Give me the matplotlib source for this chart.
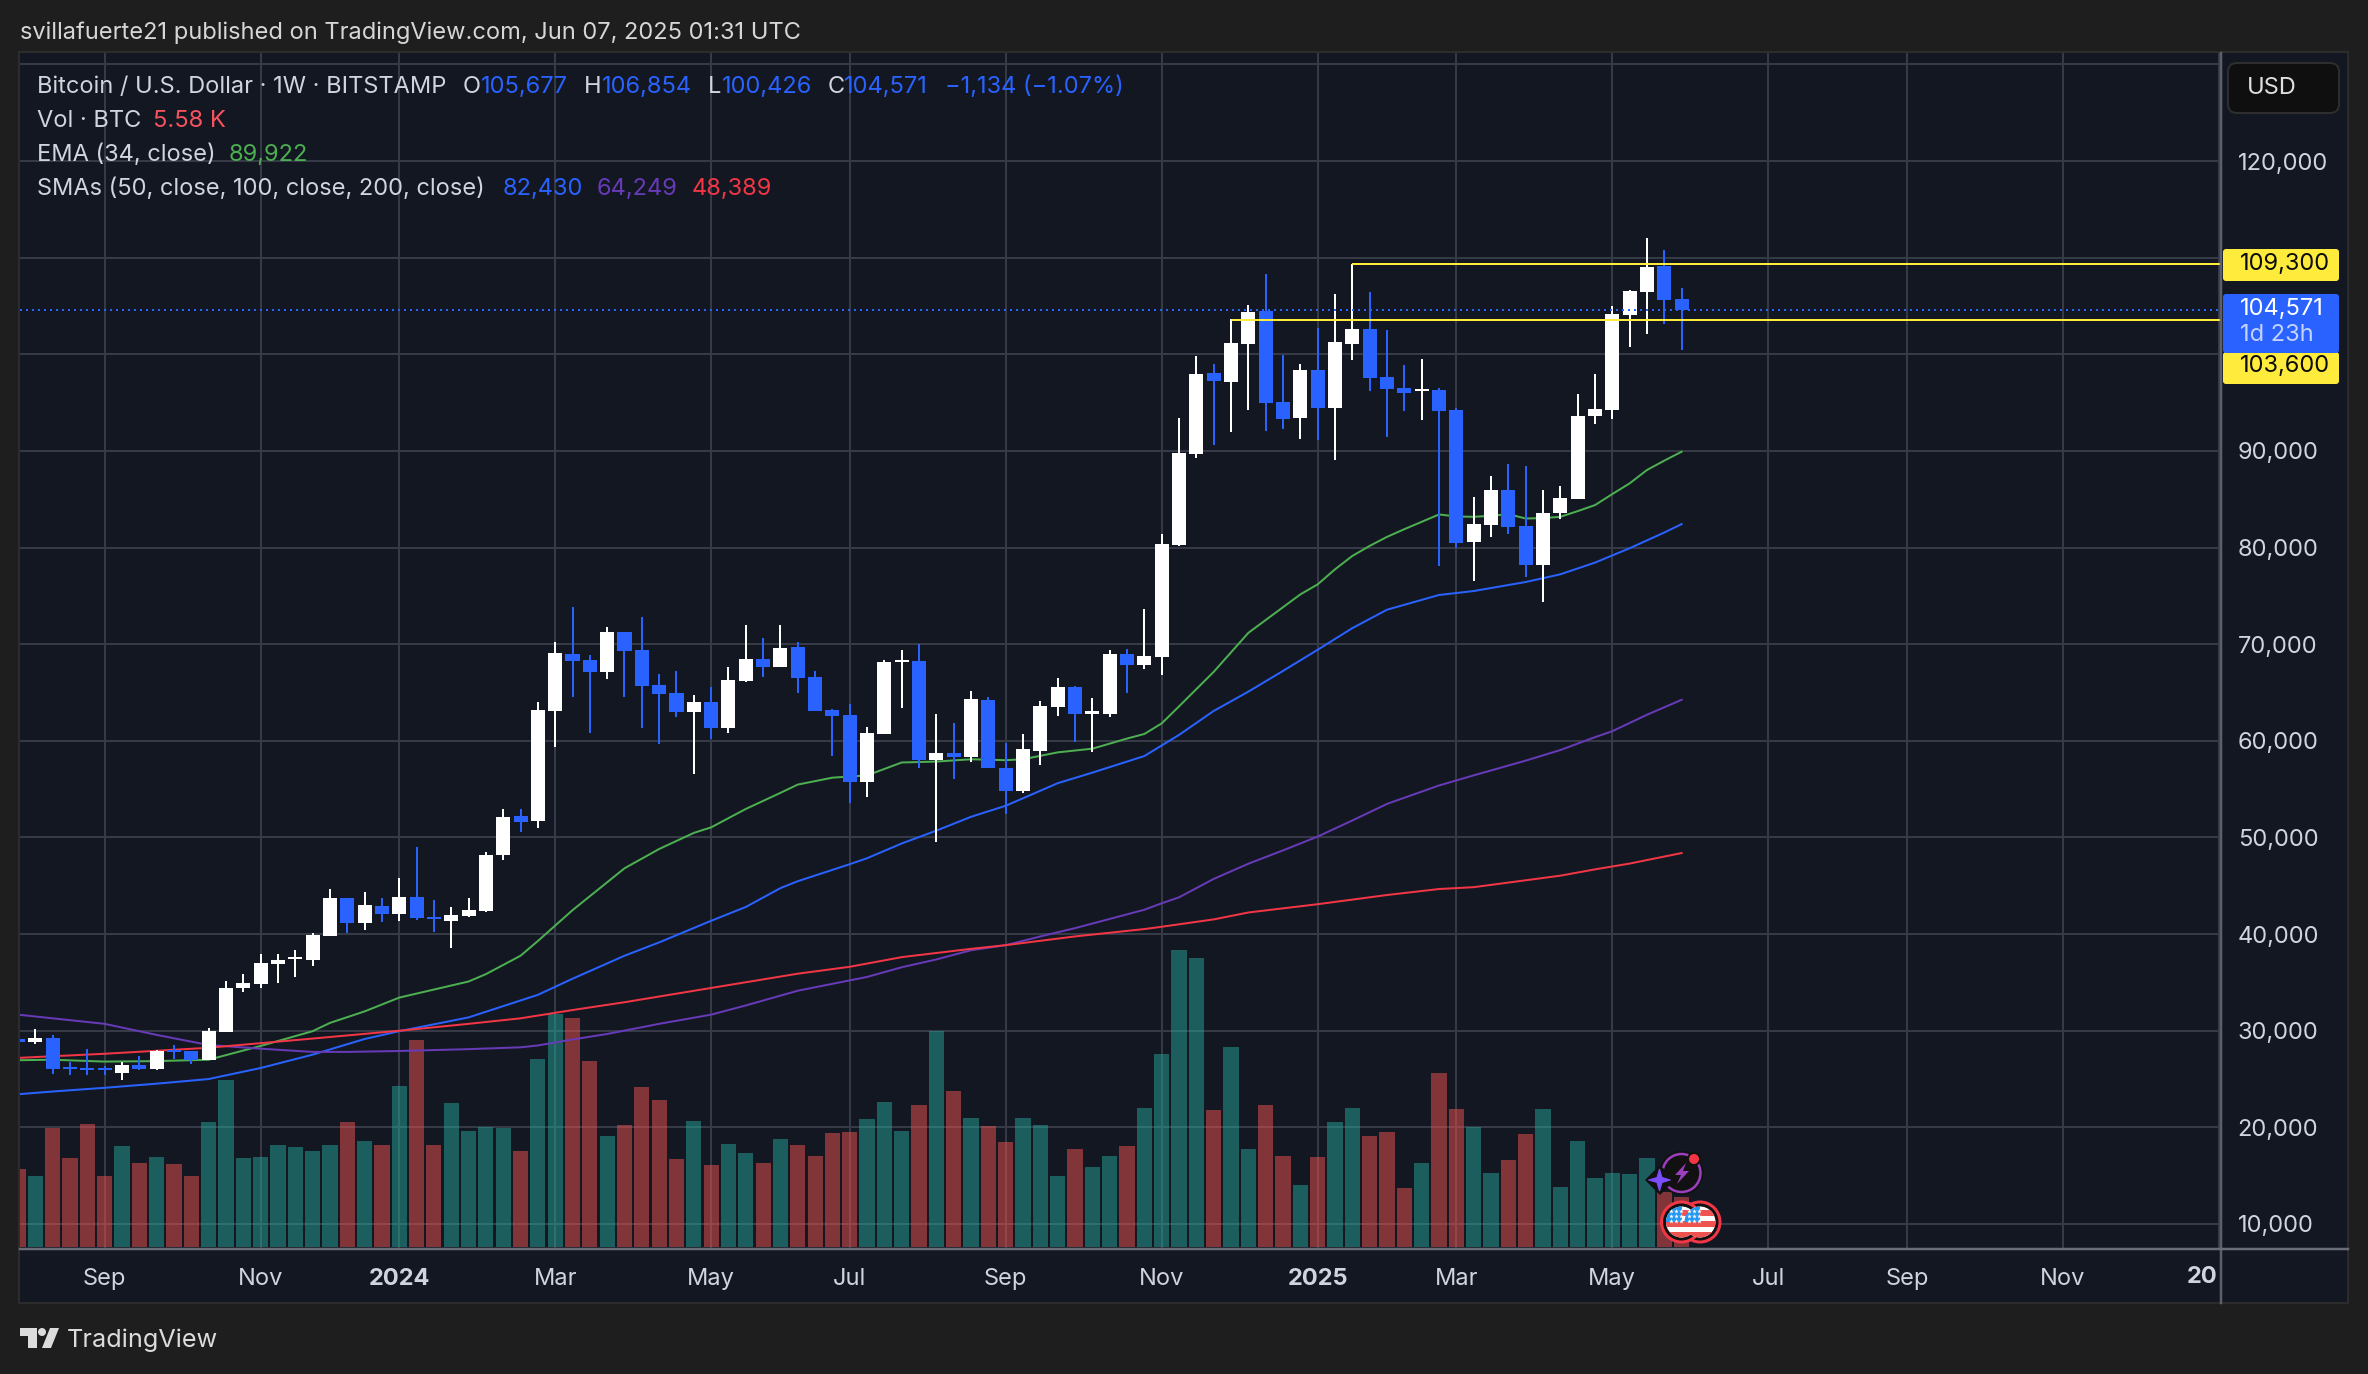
import numpy as np
import matplotlib
matplotlib.use("Agg")
import matplotlib.pyplot as plt
from matplotlib.patches import Rectangle, Circle, Polygon, FancyBboxPatch

W, H = 2368, 1374
plt.rcParams['font.family'] = ['Inter', 'DejaVu Sans']

# weeks counted from the candle of 4 Sep 2023
weeks = list(range(-5, 92))
opens = [29190, 28856, 29237, 26190, 26142, 26095, 25618, 26475, 26046, 27952, 27904, 26999, 29856, 34428, 34856, 36952,
         37380, 37333, 39856, 43761, 41190, 42952, 42094, 43856, 41761, 41380, 41904, 42428, 48142, 52190, 51666, 63047,
         68999, 68333, 67095, 71238, 69381, 65762, 64952, 62952, 64000, 61285, 66190, 68476, 67619, 69714, 66571, 63190,
         62666, 55714, 60666, 68143, 68238, 57999, 58714, 58286, 64190, 57238, 54762, 58999, 63476, 65571, 62761, 62761,
         68999, 67857, 68667, 80279, 89725, 98029, 97094, 101039, 104464, 95018, 93461, 98340, 94396, 101039, 102596,
         97613, 96472, 96195, 96264, 94188, 80590, 82355, 85988, 82251, 78203, 83600, 85054, 93669, 94188, 104049, 106436,
         109135, 105677]
highs = [29380, 30190, 29522, 26808, 28095, 26332, 26761, 27380, 28000, 28522, 27904, 30285, 35190, 35904, 37952, 37952,
         38380, 40142, 44713, 43761, 44380, 43761, 45856, 49047, 43570, 42761, 43761, 48523, 52904, 52999, 63999, 70238,
         73857, 68857, 71762, 71238, 72809, 66905, 67190, 64714, 65571, 67619, 71999, 70619, 71999, 70238, 67190, 63286,
         63762, 61428, 68333, 69381, 69999, 62762, 61809, 65143, 64524, 59762, 60666, 64095, 66476, 65666, 64428, 69381,
         69476, 73666, 81420, 93461, 99793, 98963, 103634, 105087, 108305, 99897, 98963, 102700, 106229, 109343, 106436,
         102492, 98859, 99482, 96472, 94396, 85261, 87441, 88687, 88479, 85988, 86403, 95849, 97925, 104983, 106644,
         112042, 110796, 106854]
lows = [28713, 28666, 25570, 25380, 25380, 25380, 24904, 25950, 25904, 27095, 26523, 26999, 29856, 34047, 34428, 34952,
        35570, 36713, 39856, 40142, 40475, 41285, 41380, 41476, 40237, 38523, 41809, 42237, 47714, 50523, 50952, 59333,
        64524, 60762, 66381, 64524, 61285, 59666, 62428, 56523, 60143, 60762, 66095, 66571, 67619, 64952, 63047, 58381,
        53524, 54238, 60666, 63381, 57143, 49571, 56095, 57857, 57143, 52476, 54571, 57476, 62523, 59857, 58809, 62428,
        64999, 67428, 66810, 80175, 89309, 90659, 92008, 94188, 92112, 92320, 91282, 91178, 89102, 99378, 96160, 91489,
        94084, 93254, 78099, 79967, 76542, 81109, 81421, 76957, 74362, 82978, 85054, 92839, 93358, 100727, 102077, 103115,
        100426]
closes = [28856, 29237, 26046, 26095, 26046, 26000, 26475, 26046, 27904, 27856, 26999, 30000, 34428, 34952, 37047, 37285,
          37570, 39952, 43761, 41190, 43047, 42094, 43856, 41618, 41618, 41999, 42523, 48237, 52094, 51571, 63190, 69095,
          68238, 67095, 71238, 69286, 65666, 64809, 62952, 64000, 61285, 66285, 68476, 67619, 69619, 66476, 63047, 62523,
          55714, 60762, 68143, 68286, 57999, 58714, 58286, 64333, 57143, 54762, 59143, 63571, 65571, 62761, 62952, 68999,
          67857, 68762, 80380, 89828, 97925, 97198, 101143, 104360, 94915, 93358, 98340, 94396, 101246, 102596, 97510,
          96368, 95953, 96333, 94084, 80486, 82459, 85988, 82147, 78203, 83600, 85157, 93669, 94292, 104153, 106540,
          109031, 105606, 104571]
# thousand BTC
volumes = [8.71, 7.94, 13.27, 9.94, 13.73, 7.94, 11.27, 9.38, 10.04, 9.27, 7.94, 13.94, 18.65, 9.94, 10.04, 11.38, 11.17,
           10.71, 11.38, 13.94, 11.84, 11.38, 17.99, 23.11, 11.38, 16.09, 12.96, 13.37, 13.27, 10.71, 21.01, 26.03, 25.57,
           20.75, 12.40, 13.63, 17.88, 16.40, 9.84, 14.04, 9.17, 11.48, 10.50, 9.38, 12.04, 11.38, 10.15, 12.71, 12.86,
           14.30, 16.19, 12.96, 15.83, 24.08, 17.42, 14.40, 13.53, 11.73, 14.40, 13.63, 7.94, 10.97, 8.92, 10.15, 11.27,
           15.53, 21.52, 33.15, 32.23, 15.27, 22.34, 10.97, 15.83, 10.15, 6.92, 10.04, 13.94, 15.53, 12.40, 12.86, 6.61,
           9.38, 19.42, 15.42, 13.37, 8.25, 9.74, 12.60, 15.42, 6.71, 11.84, 7.69, 8.22, 8.11, 9.90, 6.14, 5.58]

ema_x = [-5, -3, 0, 3, 6, 9, 12, 13, 15, 17, 21, 22, 24, 25, 27, 30, 32, 34, 35, 37, 39, 40, 42, 44, 46, 48, 50, 52, 53, 55,
         57, 59, 60, 61, 62, 64, 66, 69, 70, 71, 72, 73, 74, 75, 76, 77, 78, 79, 80, 81, 82, 83, 84, 85, 86, 87, 88, 89, 90, 91]
ema_y = [26951, 26999, 26809, 26856, 26999, 28426, 29952, 30809, 32000, 33428, 35094, 35856, 37761, 39285, 42476, 46809,
         48809, 50475, 51047, 52952, 54619, 55476, 56190, 56428, 57762, 57857, 58095, 57999, 58095, 58809, 59190, 60238,
         60714, 61809, 63571, 67143, 71179, 75158, 76196, 77753, 79137, 80175, 81109, 81905, 82666, 83427, 83220, 83185,
         83289, 83462, 83012, 83047, 83185, 83773, 84396, 85538, 86645, 88029, 88998, 89922]
sma50_x = [-5, -3, 0, 3, 6, 9, 12, 15, 17, 21, 25, 27, 30, 32, 35, 37, 39, 40, 43, 44, 46, 48, 50, 52, 55, 57, 60, 61, 62, 64,
           66, 68, 70, 72, 74, 77, 79, 82, 84, 86, 88, 90, 91]
sma50_y = [23427, 23712, 24094, 24523, 25000, 26142, 27523, 29143, 29952, 31380, 33714, 35381, 37761, 39142, 41380, 42808,
           44761, 45476, 47237, 47857, 49380, 50713, 52142, 53285, 55619, 56714, 58428, 59524, 60619, 63095, 65095, 67238,
           69428, 71667, 73571, 75095, 75504, 76438, 77234, 78445, 79933, 81559, 82430]
sma100_x = [-5, -3, 0, 3, 6, 9, 12, 14, 17, 21, 24, 25, 27, 29, 32, 35, 37, 40, 44, 46, 48, 50, 52, 54, 56, 58, 60, 61, 62, 64,
            66, 68, 70, 72, 74, 77, 79, 82, 84, 86, 87, 89, 91]
sma100_y = [31666, 31285, 30714, 29571, 28523, 28142, 27809, 27809, 27904, 28095, 28285, 28476, 29095, 29666, 30714, 31666,
            32618, 34142, 35569, 36571, 37380, 38333, 38856, 39761, 40618, 41571, 42523, 43190, 43809, 45714, 47285, 48666,
            50095, 51761, 53476, 55381, 56428, 57952, 59047, 60381, 61000, 62700, 64249]
sma200_x = [-5, 0, 6, 9, 12, 17, 21, 24, 27, 30, 35, 40, 43, 46, 50, 52, 56, 60, 61, 64, 66, 70, 74, 77, 79, 84, 86, 88, 91]
sma200_y = [27190, 27618, 28238, 28714, 29190, 30000, 30714, 31285, 32142, 32950, 34428, 35904, 36619, 37619, 38476, 38856,
            39761, 40523, 40762, 41523, 42238, 43095, 44047, 44666, 44857, 46047, 46700, 47300, 48389]

level_high = 109300
level_low = 103600
level_high_start = 72
level_low_start = 65
last_price = 104571

price_ticks = list(range(10000, 130001, 10000))
# 100,000 sits fully behind the price tags, 130,000 behind the USD box
label_ticks = [p for p in price_ticks if p not in (100000, 130000)]
time_ticks = [0, 9, 17, 26, 35, 43, 52, 61, 70, 78, 87, 96, 104, 113, 122]
time_labels = ['Sep', 'Nov', '2024', 'Mar', 'May', 'Jul', 'Sep', 'Nov', '2025', 'Mar', 'May', 'Jul', 'Sep', 'Nov', '']

BG = '#131722'
OUTER = '#1e1e1e'
GRID = '#363a47'
WHITE = '#ffffff'
BLUE = '#2962ff'
TEXT = '#d1d4dc'
YELLOW = '#ffeb3b'
FS = 17

# pane edges in image pixels
L, R, T, B = 20, 2221, 53, 1249
x_per_week = 17.33
x0 = 104.6
y_per_unit = 96.63 / 10000
xlim = ((L - x0) / x_per_week, (R - x0) / x_per_week)
ylim = (10000 - (B - 1224) / y_per_unit, 10000 + (1224 - T) / y_per_unit)
vol_per_px = 5.58 / 50
vlim = (-2 * vol_per_px, (B - T - 2) * vol_per_px)
px = 72 / 100  # one image pixel in points

fig = plt.figure(figsize=(W / 100, H / 100), dpi=100, facecolor=OUTER)
rect = [L / W, 1 - B / H, (R - L) / W, (B - T) / H]

# whole image in pixels, for the panel behind everything
under = fig.add_axes([0, 0, 1, 1], zorder=0)
under.set_xlim(0, W)
under.set_ylim(H, 0)
under.axis('off')
under.add_patch(Rectangle((L - 1, T - 1), 2349 - L, 1304 - T, fc=BG, ec='#2c2c2c', lw=2 * px))

ax_grid = fig.add_axes(rect, zorder=1)
ax_grid.patch.set_visible(False)
ax_grid.set_xlim(xlim)
ax_grid.set_ylim(ylim)
ax_grid.set_xticks(time_ticks)
ax_grid.set_yticks(price_ticks)
ax_grid.grid(True, color=GRID, lw=2 * px)
ax_grid.tick_params(length=0, labelbottom=False, labelleft=False)
for s in ax_grid.spines.values():
    s.set_visible(False)

ax_vol = fig.add_axes(rect, zorder=2)
ax_vol.patch.set_visible(False)
ax_vol.set_xlim(xlim)
ax_vol.set_ylim(vlim)
ax_vol.axis('off')

ax = fig.add_axes(rect, zorder=3)
ax.patch.set_visible(False)
ax.set_xlim(xlim)
ax.set_ylim(ylim)
for s in ax.spines.values():
    s.set_visible(False)

o = np.array(opens)
c = np.array(closes)
up = c >= o
candle_colors = [WHITE if u else BLUE for u in up]
vol_colors = ['#26a69a' if u else '#ef5350' for u in up]

ax_vol.bar(weeks, volumes, width=0.88, color=vol_colors, alpha=0.5, lw=0)

ax.plot(ema_x, ema_y, color='#4caf50', lw=2 * px, solid_joinstyle='round')
ax.plot(sma50_x, sma50_y, color=BLUE, lw=2 * px)
ax.plot(sma100_x, sma100_y, color='#673ab7', lw=2 * px)
ax.plot(sma200_x, sma200_y, color='#f23645', lw=2 * px)

ax.vlines(weeks, lows, highs, colors=candle_colors, lw=2 * px, zorder=4)
ax.bar(weeks, np.abs(c - o), bottom=np.minimum(o, c), width=0.81, color=candle_colors, lw=0, zorder=5)
# doji bodies would vanish otherwise
thin = np.abs(c - o) < 250
ax.hlines(c[thin], np.array(weeks)[thin] - 0.4, np.array(weeks)[thin] + 0.4,
          colors=np.array(candle_colors)[thin], lw=2 * px, zorder=5)

ax.axhline(last_price, color=BLUE, lw=2 * px, ls=(0, (1, 2)), zorder=6)
ax.hlines(level_high, level_high_start, xlim[1], color=YELLOW, lw=2 * px, zorder=7)
ax.hlines(level_low, level_low_start, xlim[1], color=YELLOW, lw=2 * px, zorder=7)

ax.set_xticks(time_ticks)
ax.set_xticklabels(time_labels)
for lab in ax.get_xticklabels():
    if lab.get_text() in ('2024', '2025'):
        lab.set_fontweight('bold')
ax.yaxis.tick_right()
ax.set_yticks(label_ticks)
ax.set_yticklabels([f'{p:,}' for p in label_ticks])
ax.tick_params(axis='x', length=0, pad=13.5, labelsize=FS, labelcolor=TEXT)
ax.tick_params(axis='y', length=0, pad=12, labelsize=FS, labelcolor=TEXT)

# everything that sits on top, in image pixels
ov = fig.add_axes([0, 0, 1, 1], zorder=4)
ov.set_xlim(0, W)
ov.set_ylim(H, 0)
ov.axis('off')
ov.plot([R, R], [T, 1303], color='#5d606b', lw=2.5 * px)
ov.plot([L, 2348], [B, B], color='#6a6d78', lw=2.5 * px)


def txt(x, y, s, color=TEXT, size=FS, **kw):
    ov.text(x, y, s, color=color, fontsize=size, va='center', **kw)


def tag(y0, y1, fc):
    ov.add_patch(FancyBboxPatch((2223, y0), 116, y1 - y0, boxstyle='round,pad=0,rounding_size=3',
                                fc=fc, ec='none', lw=0, zorder=5))


txt(20, 33, 'svillafuerte21 published on TradingView.com, Jun 07, 2025 01:31 UTC', color='#d6d6d6')

txt(37, 87, 'Bitcoin / U.S. Dollar · 1W · BITSTAMP')
for x, s in [(463, 'O'), (584, 'H'), (708, 'L'), (828, 'C')]:
    txt(x, 87, s)
for x, s in [(481, '105,677'), (602, '106,854'), (722, '100,426'), (844, '104,571'), (945, '−1,134 (−1.07%)')]:
    txt(x, 87, s, color=BLUE)
txt(37, 121, 'Vol · BTC')
txt(153, 121, '5.58 K', color='#f7525f')
txt(37, 155, 'EMA (34, close)')
txt(229, 155, '89,922', color='#4caf50')
txt(37, 189, 'SMAs (50, close, 100, close, 200, close)')
txt(503, 189, '82,430', color=BLUE)
txt(597, 189, '64,249', color='#673ab7')
txt(692, 189, '48,389', color='#f23645')

txt(2218, 1277, '20', fontweight='bold', ha='right')

ov.add_patch(FancyBboxPatch((2228, 63), 111, 50, boxstyle='round,pad=0,rounding_size=9', fc='#0f0f0f', ec='#2e2e2e', lw=2 * px))
txt(2247, 88, 'USD', color='#e0e0e0')

tag(249, 281, YELLOW)
tag(352, 384, YELLOW)
tag(294, 353, BLUE)
ov.text(2240, 264.5, f'{level_high:,}', color='#0c0c0c', fontsize=FS, va='center', zorder=6)
ov.text(2240, 365.5, f'{level_low:,}', color='#0c0c0c', fontsize=FS, va='center', zorder=6)
ov.text(2240, 309, f'{last_price:,}', color='#ffffff', fontsize=FS, va='center', zorder=6)
ov.text(2240, 335, '1d 23h', color='#c3d2ff', fontsize=FS, va='center', zorder=6)

# TradingView logo
ov.add_patch(Polygon([(20, 1328), (37, 1328), (37, 1348), (28, 1348), (28, 1336), (20, 1336)], fc='#dcdcdc', lw=0))
ov.add_patch(Circle((42, 1332), 4, fc='#dcdcdc', lw=0))
ov.add_patch(Polygon([(50, 1328), (59, 1328), (51, 1348), (42, 1348)], fc='#dcdcdc', lw=0))
txt(67, 1340, 'TradingView', color='#dcdcdc', size=18.2)


def flag(cx, cy):
    ov.add_patch(Circle((cx, cy), 20, fc='#111111', ec='#f23645', lw=3 * px, zorder=6))
    face = Circle((cx, cy), 15.5, fc='#ffffff', lw=0, zorder=7)
    ov.add_patch(face)
    for k in range(3):
        r = ov.add_patch(Rectangle((cx - 17, cy - 12 + k * 11), 34, 6, fc='#ef5350', lw=0, zorder=8))
        r.set_clip_path(face)
    r = ov.add_patch(Rectangle((cx - 17, cy - 17), 17, 17, fc='#2196f3', lw=0, zorder=9))
    r.set_clip_path(face)
    for sx in (-11, -6, -1):
        for sy in (-11, -6, -1):
            ov.plot(cx + sx, cy + sy, marker='*', ms=3.5, color='#ffffff', mew=0, zorder=10)


flag(1700, 1222)
flag(1681.5, 1222)

# alert icon
ov.add_patch(Circle((1681.5, 1173), 22, fc='#111111', lw=0, zorder=6))
ov.add_patch(Circle((1681.5, 1173), 19, fc='#111111', ec='#9c3fbf', lw=2.5 * px, zorder=7))
ov.add_patch(Polygon([(1686, 1163), (1675, 1175), (1681, 1175), (1677, 1184), (1689, 1171), (1683, 1171)], fc='#9c3fbf', lw=0, zorder=8))
ov.add_patch(Circle((1694, 1159), 7, fc='#111111', lw=0, zorder=8))
ov.add_patch(Circle((1694, 1159), 5, fc='#f23645', lw=0, zorder=9))
ov.plot(1659.5, 1180, marker='D', ms=15, color='#111111', mew=0, zorder=8)
ov.add_patch(Polygon([(1659.5, 1169), (1662, 1177.5), (1670.5, 1180), (1662, 1182.5), (1659.5, 1191), (1657, 1182.5), (1648.5, 1180), (1657, 1177.5)],
                     fc='#7c4dff', ec='#7c4dff', lw=1 * px, zorder=9))

fig.savefig('out.png', dpi=100, facecolor=OUTER)
